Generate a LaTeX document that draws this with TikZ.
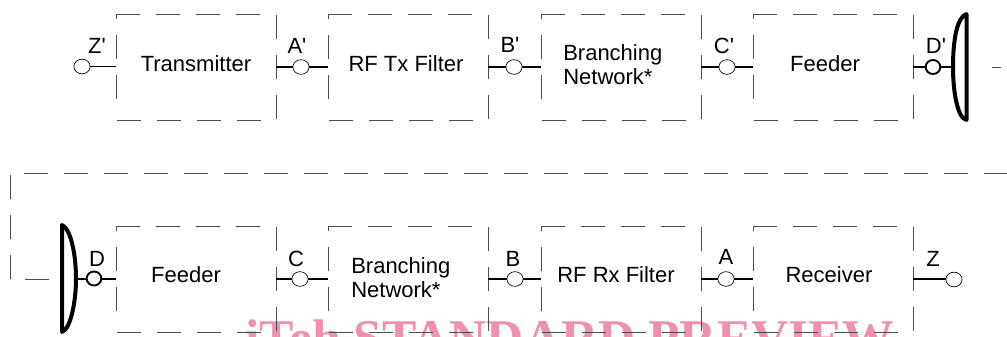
\documentclass[tikz,border=0pt]{standalone}
\usetikzlibrary{shapes.geometric}
\usepackage{fontspec}
\setmainfont{Liberation Sans}
\newfontfamily\wmfont{Liberation Serif}
\definecolor{wmpink}{HTML}{F090AE}
\definecolor{dashgray}{gray}{0.3}
\tikzset{
  longdash/.style={draw=dashgray,line width=0.6pt,dash pattern=on 18pt off 12pt},
  wire/.style={line width=1.35pt,black},
  term/.style={ellipse,draw=black,fill=white,line width=0.5pt,inner sep=0pt,minimum width=12.2pt,minimum height=11pt},
  termbold/.style={ellipse,draw=black,fill=white,line width=1.4pt,inner sep=0pt,minimum width=11pt,minimum height=10.5pt},
  blocktext/.style={font=\fontsize{16.5}{18}\selectfont,align=left,inner sep=0pt},
  portlabel/.style={font=\fontsize{16.5}{18}\selectfont,inner sep=0pt},
  dish/.style={line width=3pt,black,line cap=round,line join=round},
}
\newcommand{\dbox}[3]{%
  \coordinate (#3) at (#1,#2);
  \draw[longdash] (#1,#2) -- (#1+144,#2);
  \draw[longdash,dash phase=14pt] (#1,#2) -- (#1,#2+92);
  \draw[longdash] (#1+1,#2+106) -- (#1+145,#2+106);
  \draw[longdash] (#1+160,#2+1) -- (#1+160,#2+105);
}
\begin{document}
\begin{tikzpicture}[x=0.75pt,y=-0.75pt]
\useasboundingbox (0,0) rectangle (1007,336);
\fill[white] (0,0) rectangle (1007,336);
\clip (0,0) rectangle (1007,336);
\node[anchor=base west,inner sep=0pt,text=wmpink,font=\wmfont\bfseries\fontsize{38.6}{38}\selectfont] (wm) at (245,355) {iTeh STANDARD PREVIEW};

% dashed blocks
\dbox{116}{14}{b1} \dbox{328}{14}{b2} \dbox{541}{14}{b3} \dbox{753}{14}{b4}
\dbox{116}{226}{b5} \dbox{328}{226}{b6} \dbox{541}{226}{b7} \dbox{753}{226}{b8}

% long return path
\coordinate (rs) at (24,173);
\coordinate (re) at (1007,173);
\coordinate (vs) at (10,175);
\coordinate (ve) at (10,279);
\coordinate (ts) at (992,67);
\coordinate (te) at (1001,67);
\coordinate (bs) at (25,279);
\coordinate (be) at (50,279);
\draw[longdash] (rs) -- (re);
\draw[longdash] (vs) -- (ve);
\draw[longdash] (ts) -- (te);
\draw[longdash] (bs) -- (be);

% block texts
\node[blocktext] (t1) at (196,64) {Transmitter};
\node[blocktext] (t2) at (406,64) {RF Tx Filter};
\node[blocktext,anchor=west] (t3) at (563,65) {Branching\\Network*};
\node[blocktext] (t4) at (825,64) {Feeder};
\node[blocktext] (t5) at (186,275) {Feeder};
\node[blocktext,anchor=west] (t6) at (351,277.5) {Branching\\Network*};
\node[blocktext] (t7) at (616,275) {RF Rx Filter};
\node[blocktext] (t8) at (829,275) {Receiver};

% anchor points on the block edges
\coordinate (p1) at (116,66.5);
\coordinate (p2) at (276,67); \coordinate (p3) at (328,67);
\coordinate (p4) at (488,67); \coordinate (p5) at (541,67);
\coordinate (p6) at (701,67); \coordinate (p7) at (753,67);
\coordinate (p8) at (913,67); \coordinate (p9) at (953,67);
\coordinate (q1) at (116,279); \coordinate (q0) at (76,279);
\coordinate (q2) at (276,279); \coordinate (q3) at (328,279);
\coordinate (q4) at (488,279); \coordinate (q5) at (541,279);
\coordinate (q6) at (701,279); \coordinate (q7) at (753,279);
\coordinate (q8) at (913,279);
\coordinate (q9) at (950,279);

% wires
\draw[wire] (p2) -- (p3);
\draw[wire] (p4) -- (p5);
\draw[wire] (p6) -- (p7);
\draw[wire] (p8) -- (p9);
\draw[wire] (q0) -- (q1);
\draw[wire] (q2) -- (q3);
\draw[wire] (q4) -- (q5);
\draw[wire] (q6) -- (q7);
\draw[wire] (q8) -- (q9);

% terminals
\node[term] (zp) at (82,66.5) {};
\node[term] (ap) at (301,67) {};
\node[term] (bp) at (514,67) {};
\node[term] (cp) at (727,67) {};
\node[termbold] (dp) at (933,67) {};
\node[termbold] (d) at (94,278.5) {};
\node[term] (c) at (300,279) {};
\node[term] (b) at (515,279) {};
\node[term] (a) at (726,279) {};
\node[term] (z) at (954,279.5) {};
\draw[wire] (zp) -- (p1);

% port labels
\node[portlabel] (lzp) at (97,46) {Z\textquotesingle};
\node[portlabel] (lap) at (297,46) {A\textquotesingle};
\node[portlabel] (lbp) at (510,45) {B\textquotesingle};
\node[portlabel] (lcp) at (724,45.5) {C\textquotesingle};
\node[portlabel] (ldp) at (936,46) {D\textquotesingle};
\node[portlabel] (ld) at (97,258.5) {D};
\node[portlabel] (lc) at (296,258.5) {C};
\node[portlabel] (lb) at (513,259) {B};
\node[portlabel] (la) at (726,257) {A};
\node[portlabel] (lz) at (933,258.5) {Z};

% antennas
\draw[dish] (966.5,14) -- (966.5,120) .. controls (957,118) and (953,90) .. (953,67) .. controls (953,40) and (957,17) .. (966.5,14) -- cycle;
\draw[dish] (62,225) -- (62,332) .. controls (71,329) and (76,300) .. (76,279) .. controls (76,255) and (71,229) .. (62,225) -- cycle;
\end{tikzpicture}
\end{document}
